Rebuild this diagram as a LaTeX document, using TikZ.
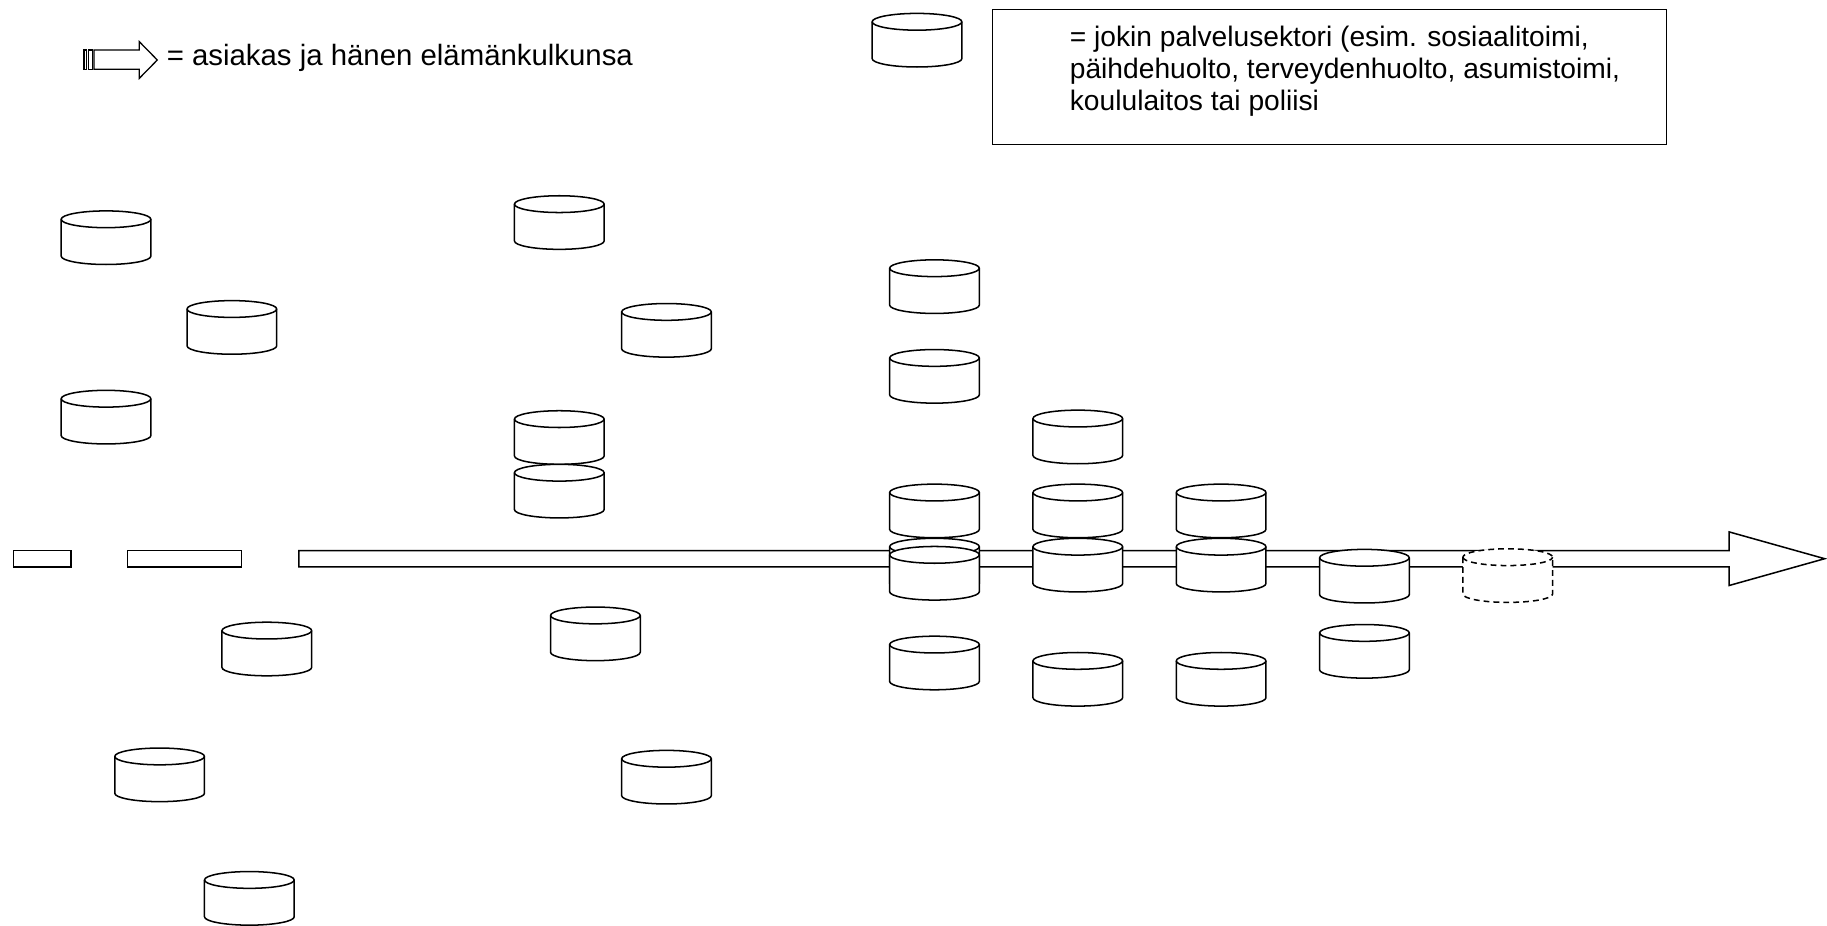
\documentclass[tikz,border=0pt]{standalone}
\usepackage{fontspec}
\setmainfont{Liberation Sans}
\begin{document}
\tikzset{
  lw/.style={line width=1.3pt},
  cylbody/.style={lw, draw=black, fill=white, line join=round},
  cyl/.pic={
    \path[cylbody, pic actions] (-38.5,15.8) -- (-38.5,-15.8)
      arc[start angle=180, end angle=360, x radius=38.5, y radius=7.2]
      -- (38.5,15.8)
      arc[start angle=0, end angle=180, x radius=38.5, y radius=7.2] -- cycle;
    \draw[lw, pic actions] (-38.5,15.8)
      arc[start angle=180, end angle=360, x radius=38.5, y radius=7.2];
    \coordinate (-c) at (0,0);
  },
  dashcyl/.style={dash pattern=on 5pt off 3.5pt},
  bandshape/.style={lw, draw=black, fill=white, line join=miter},
  legtext/.style={inner sep=0pt, anchor=base west, font=\fontsize{24.2}{27.5}\selectfont},
  legtextA/.style={inner sep=0pt, anchor=base west, font=\fontsize{25.2}{28}\selectfont},
}
\begin{tikzpicture}[x=1pt, y=1pt]
\useasboundingbox (0,0) rectangle (1568,-794);

% legend: client arrow
\draw[line width=1.1pt, fill=white] (72.1,-42.9) rectangle (74.4,-59.5);
\draw[line width=1.1pt, fill=white] (75.8,-42.9) rectangle (79.2,-59.5);
\draw[line width=1.1pt, fill=white, line join=miter] (80.7,-42.9) -- (119.6,-42.9) -- (119.6,-35.8)
  -- (135,-51.5) -- (119.6,-67.2) -- (119.6,-59.5) -- (80.7,-59.5) -- cycle;
\node[legtextA] (legA) at (143,-56) {= asiakas ja hänen elämänkulkunsa};

% legend: service sector
\pic (legcyl) at (787,-34.5) {cyl};
\node[draw=black, line width=1.1pt, minimum width=578pt, minimum height=116pt, inner sep=0pt]
  (legbox) at (1141,-66) {};
\node[legtext] (t1) at (918,-40) {= jokin palvelusektori (esim. sosiaalitoimi,};
\node[legtext] (t2) at (918,-67.5) {päihdehuolto, terveydenhuolto, asumistoimi,};
\node[legtext] (t3) at (918,-95) {koululaitos tai poliisi};

% life course arrow
\draw[bandshape] (11.4,-472.5) rectangle (61,-486.5);
\draw[bandshape] (109.6,-472.5) rectangle (207.4,-486.5);
\draw[bandshape] (256.6,-472.5) -- (1484,-472.5) -- (1484,-456.5) -- (1566,-479.5)
  -- (1484,-502.5) -- (1484,-486.5) -- (256.6,-486.5) -- cycle;

% left group
\pic (c1) at (91,-204) {cyl};
\pic (c2) at (199,-281) {cyl};
\pic (c3) at (91,-358) {cyl};
\pic (c4) at (229,-557) {cyl};
\pic (c5) at (137,-665) {cyl};
\pic (c6) at (214,-771) {cyl};

% middle group
\pic (c7) at (480,-191) {cyl};
\pic (c8) at (572,-283.5) {cyl};
\pic (c9) at (480,-375.5) {cyl};
\pic (c10) at (480,-421.5) {cyl};
\pic (c11) at (511,-544) {cyl};
\pic (c12) at (572,-667) {cyl};

% right group
\pic (c13) at (802,-246) {cyl};
\pic (c14) at (802,-323) {cyl};
\pic (c15) at (925,-375) {cyl};
\pic (c16) at (802,-438.5) {cyl};
\pic (c17) at (925,-438.5) {cyl};
\pic (c18) at (1048,-438.5) {cyl};
\pic (c19) at (802,-485) {cyl};
\pic (c20) at (802,-492) {cyl};
\pic (c21) at (925,-485) {cyl};
\pic (c22) at (1048,-485) {cyl};
\pic (c23) at (1171,-494.5) {cyl};
\pic[dashcyl] (c24) at (1294,-494) {cyl};
\pic (c25) at (802,-569) {cyl};
\pic (c26) at (925,-583) {cyl};
\pic (c27) at (1048,-583) {cyl};
\pic (c28) at (1171,-559) {cyl};
\end{tikzpicture}
\end{document}
